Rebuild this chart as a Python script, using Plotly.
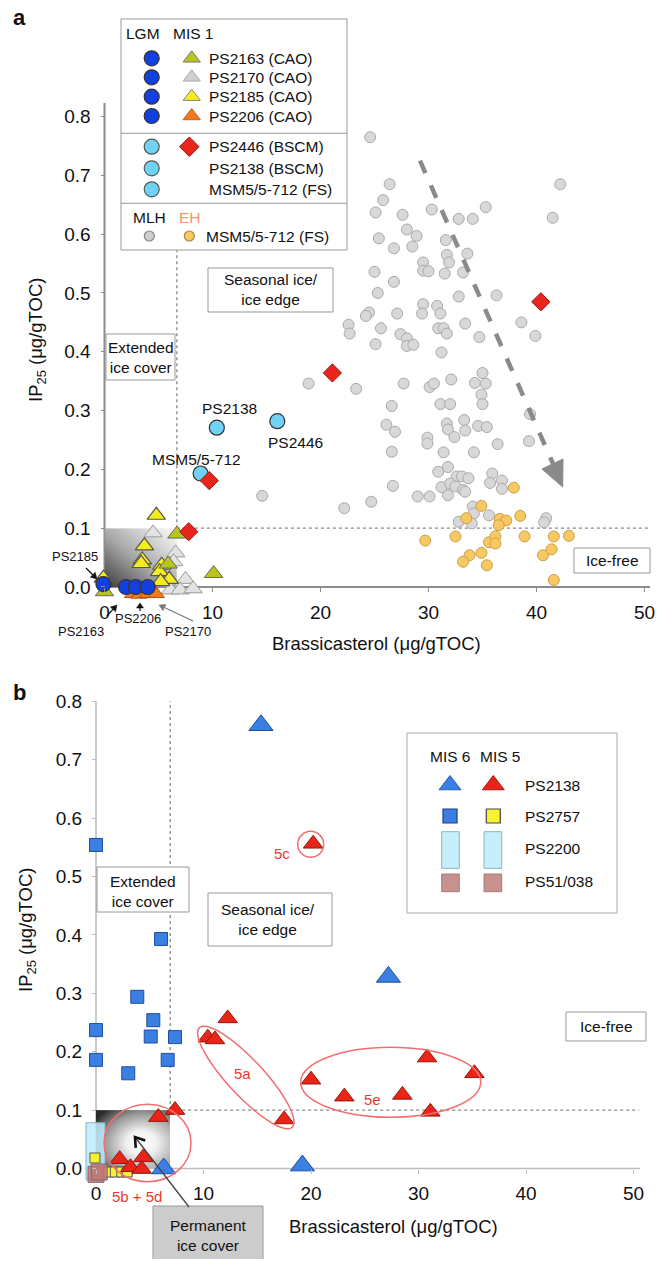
import base64
import math
import plotly.graph_objects as go

W, H = 659, 1261
FONT = "Liberation Sans, Arial, Helvetica, sans-serif"

# ---------------- DATA : panel a ----------------
mlh_x = [24.6, 26.4, 25.8, 25.1, 27.6, 30.3, 32.8, 34.1, 35.3, 42.2, 41.5, 28.0, 28.9, 25.4, 26.8, 28.5,
         31.6, 33.6, 31.7, 31.9, 29.5, 29.5, 30.0, 25.0, 31.5, 33.2, 26.8, 25.3, 32.8, 36.3, 24.5, 24.2,
         27.1, 29.5, 29.4, 30.8, 31.1,
         33.4, 38.6, 39.9, 22.6, 22.7, 25.6, 27.4, 28.0, 28.0, 28.6, 25.1, 30.9, 31.4, 31.7, 34.7, 31.2,
         18.9, 23.3, 27.7, 30.1, 30.5, 32.1, 34.3, 35.3, 35.0, 34.9, 35.0, 26.6, 31.1, 32.0, 26.1, 26.9,
         31.7, 31.8, 32.4, 33.3, 33.4, 34.6, 35.4, 39.4, 39.3, 36.4, 29.9, 29.9, 26.6, 31.4, 34.2, 30.9,
         31.8, 32.6, 33.1, 33.7, 35.9, 35.7, 36.8, 36.8, 31.2, 32.0, 32.5, 33.2, 31.8, 33.4, 26.7, 29.0,
         30.1, 24.7, 22.2, 34.1, 34.2, 32.8, 34.0, 35.6, 40.9, 40.7, 14.6]
mlh_y = [0.765, 0.685, 0.658, 0.637, 0.633, 0.642, 0.626, 0.626, 0.646, 0.685, 0.628, 0.608, 0.597, 0.593,
         0.576, 0.579, 0.590, 0.567, 0.565, 0.552, 0.552, 0.538, 0.537, 0.536, 0.533, 0.535, 0.519, 0.500,
         0.494, 0.496, 0.467, 0.461, 0.465, 0.481, 0.465, 0.478, 0.465,
         0.448, 0.450, 0.427, 0.446, 0.431, 0.440, 0.430, 0.423, 0.410, 0.412, 0.413, 0.440, 0.440, 0.431,
         0.425, 0.399, 0.346, 0.337, 0.346, 0.340, 0.346, 0.353, 0.347, 0.346, 0.364, 0.327, 0.311, 0.308,
         0.311, 0.311, 0.276, 0.264, 0.278, 0.268, 0.255, 0.284, 0.266, 0.274, 0.272, 0.294, 0.248, 0.243,
         0.254, 0.244, 0.230, 0.229, 0.229, 0.196, 0.204, 0.188, 0.188, 0.185, 0.193, 0.177, 0.181, 0.167,
         0.170, 0.176, 0.171, 0.165, 0.156, 0.162, 0.172, 0.154, 0.154, 0.145, 0.134, 0.137, 0.125, 0.111,
         0.108, 0.122, 0.117, 0.110, 0.155]

eh_x = [37.9, 34.9, 33.5, 36.6, 37.2, 36.5, 38.5, 29.7, 32.5, 35.6, 36.2, 36.2, 38.9, 41.6, 43.0, 34.9,
        33.8, 33.2, 35.4, 40.6, 41.4, 41.6]
eh_y = [0.169, 0.138, 0.117, 0.116, 0.113, 0.105, 0.121, 0.079, 0.086, 0.076, 0.086, 0.074, 0.086, 0.086,
        0.087, 0.058, 0.054, 0.043, 0.037, 0.054, 0.064, 0.012]

ps2163_x = [6.7, 10.1, 0.0, 5.9]
ps2163_y = [0.090, 0.023, -0.008, 0.039]
ps2170_x = [4.5, 6.6, 6.4, 7.5, 6.1, 7.0, 8.2]
ps2170_y = [0.092, 0.058, 0.043, 0.013, -0.005, -0.005, -0.003]
ps2185_x = [4.8, 3.7, 3.5, 3.4, 5.3, 5.1, 6.0, 5.2, -0.1, 3.6]
ps2185_y = [0.122, 0.070, 0.046, 0.040, 0.037, 0.026, 0.013, 0.009, 0.015, -0.011]
ps2206_x = [2.6, 3.2, 4.0, 4.8]
ps2206_y = [-0.012, -0.013, -0.012, -0.012]

lgm_x = [-0.1, 2.0, 2.9, 4.0]
lgm_y = [0.005, 0.0, 0.0, 0.0]

cyan_names = ["MSM5/5-712", "PS2138", "PS2446"]
cyan_x = [8.9, 10.4, 16.0]
cyan_y = [0.193, 0.271, 0.282]

ps2446_x = [7.8, 9.7, 21.1, 40.4]
ps2446_y = [0.094, 0.181, 0.364, 0.485]

legend_a_rows = ["PS2163 (CAO)", "PS2170 (CAO)", "PS2185 (CAO)", "PS2206 (CAO)"]
legend_a_rows2 = ["PS2446 (BSCM)", "PS2138 (BSCM)", "MSM5/5-712 (FS)"]

# ---------------- DATA : panel b ----------------
mis6_tri_x = [15.35, 27.2, 19.2, 6.3]
mis6_tri_y = [0.759, 0.328, 0.005, 0.0]
mis5_tri_x = [20.2, 12.25, 10.4, 11.06, 17.5, 20.0, 23.1, 28.5, 30.8, 35.2, 31.1, 7.35, 5.8, 2.2, 4.4, 3.2, 4.25]
mis5_tri_y = [0.556, 0.257, 0.224, 0.221, 0.084, 0.152, 0.123, 0.126, 0.190, 0.163, 0.097, 0.100, 0.088,
              0.016, 0.019, 0.002, -0.001]
mis6_sq_x = [0.0, 6.05, 3.84, 5.33, 5.09, 7.35, 0.0, 0.0, 3.0, 6.67]
mis6_sq_y = [0.554, 0.393, 0.294, 0.254, 0.226, 0.225, 0.237, 0.186, 0.163, 0.186]
mis5_sq_x = [-0.1, 0.5, 1.2, 1.8, 2.4, 2.9]
mis5_sq_y = [0.018, -0.006, -0.006, -0.006, -0.006, -0.006]
ps2200_x = [0.0]
ps2200_lo = [-0.02]
ps2200_hi = [0.078]
ps51_x = [0.0, 0.3]
ps51_y = [-0.010, -0.006]

x_ticks = [0, 10, 20, 30, 40, 50]
y_ticks = [0.0, 0.1, 0.2, 0.3, 0.4, 0.5, 0.6, 0.7, 0.8]
y_ticktext = ["0.0", "0.1", "0.2", "0.3", "0.4", "0.5", "0.6", "0.7", "0.8"]

# ---------------- geometry ----------------
AX0, AXS, AY0, AYS = 104.5, 10.8, 587.0, 588.0
BX0, BXS, BY0, BYS = 96.0, 10.75, 1168.5, 584.0
XA_RANGE, YA_RANGE = [-2, 51], [-0.04, 0.998]
XB_RANGE, YB_RANGE = [-2, 51.5], [-0.155, 0.86]


def ax_(p): return (p - AX0) / AXS
def ay_(p): return (AY0 - p) / AYS
def bx_(p): return (p - BX0) / BXS
def by_(p): return (BY0 - p) / BYS


xa_dom = [(AX0 + XA_RANGE[0] * AXS) / W, (AX0 + XA_RANGE[1] * AXS) / W]
ya_dom = [1 - (AY0 - YA_RANGE[0] * AYS) / H, 1 - (AY0 - YA_RANGE[1] * AYS) / H]
xb_dom = [(BX0 + XB_RANGE[0] * BXS) / W, (BX0 + XB_RANGE[1] * BXS) / W]
yb_dom = [1 - (BY0 - YB_RANGE[0] * BYS) / H, 1 - (BY0 - YB_RANGE[1] * BYS) / H]

fig = go.Figure()
shapes, anns, images = [], [], []


def sc(x, y, sym, size, color, lc, lw=1.0, axis="a", opacity=1.0):
    fig.add_trace(go.Scatter(x=x, y=y, mode="markers", hoverinfo="skip", showlegend=False,
                             xaxis="x" if axis == "a" else "x2", yaxis="y" if axis == "a" else "y2",
                             marker=dict(symbol=sym, size=size, color=color, opacity=opacity,
                                         line=dict(color=lc, width=lw))))


def txt(px, py, text, size=15.5, color="#111", xanchor="center", angle=0, bold=False):
    if bold:
        text = "<b>" + text + "</b>"
    anns.append(dict(x=px / W, y=1 - py / H, xref="paper", yref="paper", text=text, showarrow=False,
                     xanchor=xanchor, yanchor="middle", textangle=angle,
                     font=dict(family=FONT, size=size, color=color)))


def P(px, py):
    return f"{px / W:.5f},{1 - py / H:.5f}"


def arrow(hx, hy, tx, ty, color="#111", width=1.2, hl=6.0, hw=3.5, open_head=False):
    d = math.hypot(hx - tx, hy - ty)
    ux, uy = (hx - tx) / d, (hy - ty) / d
    nx, ny = -uy, ux
    bxp, byp = hx - hl * ux, hy - hl * uy
    shaft_end = (bxp, byp) if not open_head else (hx, hy)
    shapes.append(dict(type="line", xref="paper", yref="paper", x0=tx / W, y0=1 - ty / H,
                       x1=shaft_end[0] / W, y1=1 - shaft_end[1] / H,
                       line=dict(color=color, width=width), layer="above"))
    c1 = (bxp + hw * nx, byp + hw * ny)
    c2 = (bxp - hw * nx, byp - hw * ny)
    if open_head:
        path = f"M {P(*c1)} L {P(hx, hy)} L {P(*c2)}"
        shapes.append(dict(type="path", xref="paper", yref="paper", path=path,
                           line=dict(color="#111", width=2.6), layer="above"))
    else:
        path = f"M {P(hx, hy)} L {P(*c1)} L {P(*c2)} Z"
        shapes.append(dict(type="path", xref="paper", yref="paper", path=path, fillcolor=color,
                           line=dict(color=color, width=0.5), layer="above"))


def box(panel, x0, y0, x1, y1, fill="white", line="#999", lw=1.0, layer="below"):
    if panel == "a":
        shapes.append(dict(type="rect", xref="x", yref="y", x0=ax_(x0), x1=ax_(x1), y0=ay_(y0), y1=ay_(y1),
                           fillcolor=fill, line=dict(color=line, width=lw), layer=layer))
    else:
        shapes.append(dict(type="rect", xref="x2", yref="y2", x0=bx_(x0), x1=bx_(x1), y0=by_(y0), y1=by_(y1),
                           fillcolor=fill, line=dict(color=line, width=lw), layer=layer))


def line(panel, x0, y0, x1, y1, color, width, dash="solid", layer="below"):
    r = ("x", "y") if panel == "a" else ("x2", "y2")
    shapes.append(dict(type="line", xref=r[0], yref=r[1], x0=x0, y0=y0, x1=x1, y1=y1,
                       line=dict(color=color, width=width, dash=dash), layer=layer))


def svg_uri(svg):
    return "data:image/svg+xml;base64," + base64.b64encode(svg.encode()).decode()


# ---------------- panel a decorations ----------------
svg_a = ('<svg xmlns="http://www.w3.org/2000/svg" width="100" height="100" viewBox="0 0 100 100" '
         'preserveAspectRatio="none"><defs><linearGradient id="g" x1="0" y1="1" x2="1" y2="0">'
         '<stop offset="0" stop-color="#3a3a3a"/><stop offset="0.45" stop-color="#a6a6a6"/>'
         '<stop offset="1" stop-color="#ffffff"/></linearGradient></defs>'
         '<rect width="100" height="100" fill="url(#g)"/></svg>')
images.append(dict(source=svg_uri(svg_a), xref="x", yref="y", x=0, y=0.1, sizex=6.7, sizey=0.1,
                   sizing="stretch", xanchor="left", yanchor="top", layer="below"))

line("a", 6.7, 0.1, 6.7, ay_(250), "#888", 1.3, "dot")
line("a", 6.7, 0.1, 50.5, 0.1, "#888", 1.3, "dot")
line("a", 0, 0, 0, ay_(103), "#8c8c8c", 2)
line("a", ax_(102), 0, ax_(650), 0, "#8c8c8c", 2)

box("a", 121, 19, 347, 250)
line("a", ax_(121), ay_(133.3), ax_(347), ay_(133.3), "#999", 1)
line("a", ax_(121), ay_(203.3), ax_(347), ay_(203.3), "#999", 1)
box("a", 208, 268, 333, 312)
box("a", 106, 334, 175, 380)
box("a", 574, 548, 650, 573)

# big dashed trend arrow
arr_px = [(420, 160.7), (553.1, 464.0)]
line("a", ax_(arr_px[0][0]), ay_(arr_px[0][1]), ax_(arr_px[1][0]), ay_(arr_px[1][1]), "#8a8a8a", 4.5, "dash",
     layer="above")
head = [(562.7, 487.0), (563.0, 459.0), (542.0, 469.0)]
path = "M " + " L ".join(f"{ax_(p[0])},{ay_(p[1])}" for p in head) + " Z"
shapes.append(dict(type="path", xref="x", yref="y", path=path, fillcolor="#8a8a8a",
                   line=dict(color="#8a8a8a", width=1), layer="above"))

# ---------------- panel a data ----------------
sc(mlh_x, mlh_y, "circle", 11, "#d8d8d8", "#a9a9a9", 1)
sc(eh_x, eh_y, "circle", 11, "#f8c862", "#c7a04a", 1)
sc(ps2170_x, ps2170_y, "triangle-up", 16, "#e2e2e2", "#9a9a9a", 1)
sc(ps2185_x, ps2185_y, "triangle-up", 16, "#f4ec1e", "#555", 1.2)
sc(ps2163_x, ps2163_y, "triangle-up", 16, "#b9c51f", "#666", 1)
sc(ps2206_x, ps2206_y, "triangle-up", 14, "#f07a1e", "#b05010", 1)
sc(lgm_x, lgm_y, "circle", 15, "#1240e0", "#333", 1.2)
sc(cyan_x, cyan_y, "circle", 15, "#70d2f4", "#333", 1.2)
sc(ps2446_x, ps2446_y, "diamond", 14, "#e8261c", "#a01010", 1)

# legend a markers
leg_rows = [58.3, 77.3, 96.7, 116.0]
sc([ax_(151.7)] * 4, [ay_(v) for v in leg_rows], "circle", 15, "#1240e0", "#333", 1.2)
for yy, col, lc in zip(leg_rows, ["#b9c51f", "#d0d0d0", "#f4ec1e", "#f07a1e"], ["#777", "#aaa", "#888", "#c06018"]):
    sc([ax_(191.7)], [ay_(yy)], "triangle-up", 15, col, lc, 1)
leg_rows2 = [146.7, 168.3, 189.3]
sc([ax_(151.7)] * 3, [ay_(v) for v in leg_rows2], "circle", 15, "#70d2f4", "#555", 1.2)
sc([ax_(189.3)], [ay_(146.7)], "diamond", 15, "#e8261c", "#a01010", 1)
sc([ax_(149.3)], [ay_(236)], "circle", 10, "#cfcfcf", "#888", 1.2)
sc([ax_(189.3)], [ay_(236)], "circle", 10, "#f8c862", "#a88a40", 1.2)

txt(143, 33, "LGM")
txt(193, 33, "MIS 1")
for yy, t in zip(leg_rows, legend_a_rows):
    txt(206.7, yy, t, xanchor="left")
for yy, t in zip(leg_rows2, legend_a_rows2):
    txt(206.7, yy, t, xanchor="left")
txt(149, 217, "MLH")
txt(190, 217, "EH", color="#f4946c")
txt(204.3, 236, "MSM5/5-712 (FS)", xanchor="left")

txt(19, 18, "a", size=22, bold=True)
txt(270.5, 290, "Seasonal ice/<br>ice edge")
txt(140.5, 357, "Extended<br>ice cover")
txt(612, 560.5, "Ice-free")
txt(229.5, 409, cyan_names[1])
txt(295.5, 443, cyan_names[2])
txt(196.7, 459, cyan_names[0])
txt(74.7, 556.7, "PS2185", size=13)
txt(81, 631, "PS2163", size=13)
txt(138, 618, "PS2206", size=13)
txt(188, 631, "PS2170", size=13)
arrow(97, 579, 86, 568)
arrow(117, 605, 107, 616)
arrow(140, 603, 140, 611, hl=5)
arrow(159, 605, 193, 621, color="#777")
txt(376, 643, "Brassicasterol (μg/gTOC)", size=18.5)
txt(37, 340, "IP<sub>25</sub> (μg/gTOC)", size=18.5, angle=-90)

# ---------------- panel b decorations ----------------
svg_b = ('<svg xmlns="http://www.w3.org/2000/svg" width="100" height="100" viewBox="0 0 100 100" '
         'preserveAspectRatio="none"><defs><radialGradient id="g" cx="0.66" cy="0.6" r="0.8" fx="0.6" fy="0.55">'
         '<stop offset="0" stop-color="#ffffff"/><stop offset="0.25" stop-color="#f2f2f2"/>'
         '<stop offset="0.65" stop-color="#9a9a9a"/><stop offset="1" stop-color="#2a2a2a"/></radialGradient></defs>'
         '<rect width="100" height="100" fill="url(#g)"/></svg>')
images.append(dict(source=svg_uri(svg_b), xref="x2", yref="y2", x=0, y=0.1, sizex=6.9, sizey=0.1,
                   sizing="stretch", xanchor="left", yanchor="top", layer="below"))

line("b", 6.9, 0.1, 6.9, 0.8, "#888", 1.3, "dot")
line("b", 6.9, 0.1, 50.5, 0.1, "#888", 1.3, "dot")
line("b", 0, 0, 0, 0.8, "#bdbdbd", 1.6)
line("b", bx_(95), 0, bx_(640), 0, "#bdbdbd", 1.6)

box("b", 97, 867, 189, 912)
box("b", 208, 893, 332, 946)
box("b", 566, 1012, 646, 1041)
box("b", 407, 733, 617, 913, line="#aaa")
box("b", 153, 1206, 263, 1262, fill="#cccccc", line="#999")

# legend b swatches
box("b", 441.7, 831.7, 459.3, 868.3, fill="#c8eefa", line="#86b5c5")
box("b", 484.0, 831.7, 501.7, 868.3, fill="#c8eefa", line="#86b5c5")
box("b", 441.7, 874.0, 459.3, 891.7, fill="#c99090", line="#a87a7a")
box("b", 484.0, 874.0, 501.7, 891.7, fill="#c99090", line="#a87a7a")

# ellipses
ell = "#f26e6e"


def ell_rect(cx, cy, rx, ry):
    shapes.append(dict(type="circle", xref="x2", yref="y2", x0=bx_(cx - rx), x1=bx_(cx + rx),
                       y0=by_(cy + ry), y1=by_(cy - ry), line=dict(color=ell, width=1.5), layer="above"))


ell_rect(310.7, 844.3, 13, 13)
ell_rect(390.7, 1082.3, 90, 35)
ell_rect(147.5, 1143, 43.5, 38.7)
cx, cy, a, b = 245.8, 1077.5, 68, 18
ux, uy = 0.682, 0.732
pts = []
for i in range(0, 73):
    t = 2 * math.pi * i / 72
    px = cx + a * math.cos(t) * ux - b * math.sin(t) * uy
    py = cy + a * math.cos(t) * uy + b * math.sin(t) * ux
    pts.append(f"{bx_(px):.4f},{by_(py):.5f}")
shapes.append(dict(type="path", xref="x2", yref="y2", path="M " + " L ".join(pts) + " Z",
                   line=dict(color=ell, width=1.5), layer="above"))

# ---------------- panel b data ----------------
fig.add_trace(go.Bar(x=ps2200_x, y=[h - l for h, l in zip(ps2200_hi, ps2200_lo)], base=ps2200_lo, width=[1.8],
                     xaxis="x2", yaxis="y2", showlegend=False, hoverinfo="skip",
                     marker=dict(color="rgba(190,235,250,0.85)", line=dict(color="#7fb3c6", width=1))))
sc(mis5_sq_x, mis5_sq_y, "square", 10, "#f6f232", "#555", 1, axis="b")
sc(ps51_x, ps51_y, "square", 16, "rgba(190,120,120,0.85)", "#8a6060", 1, axis="b")
sc(mis6_sq_x, mis6_sq_y, "square", 13, "#3b7fe2", "#1d4fa0", 1, axis="b")
sc(mis5_tri_x, mis5_tri_y, "triangle-up", 17, "#ec2418", "#8a1a10", 1, axis="b")
sc(mis6_tri_x, mis6_tri_y, "triangle-up", 21, "#3b7fe2", "#1d4fa0", 1, axis="b")

# legend b markers
sc([bx_(450)], [by_(785)], "triangle-up", 19, "#3b7fe2", "#2a5fb0", 1, axis="b")
sc([bx_(493.3)], [by_(785)], "triangle-up", 19, "#ec2418", "#a01a10", 1, axis="b")
sc([bx_(450)], [by_(816)], "square", 14, "#3b7fe2", "#1d3f80", 1.2, axis="b")
sc([bx_(493.3)], [by_(816)], "square", 14, "#f6f232", "#444", 1.2, axis="b")
txt(450, 756, "MIS 6")
txt(500, 756, "MIS 5")
for yy, t in zip([785, 816, 848.3, 881.7], ["PS2138", "PS2757", "PS2200", "PS51/038"]):
    txt(523.3, yy, t, xanchor="left")

txt(19, 692, "b", size=22, bold=True)
txt(143, 891, "Extended<br>ice cover")
txt(268, 919, "Seasonal ice/<br>ice edge")
txt(606, 1026.5, "Ice-free")
txt(208, 1235, "Permanent<br>ice cover")
arrow(135, 1137, 189, 1207, color="#444", width=1.3, hl=9, hw=6, open_head=True)
red = "#ea3a2e"
txt(282, 853.3, "5c", size=15, color=red)
txt(242.3, 1073.3, "5a", size=15, color=red)
txt(372.3, 1099.3, "5e", size=15, color=red)
txt(137.3, 1196.7, "5b + 5d", size=15, color=red)
txt(393, 1226, "Brassicasterol (μg/gTOC)", size=18.5)
txt(27, 930, "IP<sub>25</sub> (μg/gTOC)", size=18.5, angle=-90)


def xaxis(dom, rng, pos, tc):
    return dict(domain=dom, range=rng, anchor="free", position=pos, tickvals=x_ticks,
                ticktext=[str(v) for v in x_ticks], ticks="outside", ticklen=4, tickcolor=tc, tickwidth=1,
                showline=False, showgrid=False, zeroline=False, ticklabelstandoff=4,
                tickfont=dict(family=FONT, size=19, color="#111"), fixedrange=True)


def yaxis(dom, rng, pos, tc):
    return dict(domain=dom, range=rng, anchor="free", position=pos, tickvals=y_ticks, ticktext=y_ticktext,
                ticks="outside", ticklen=4, tickcolor=tc, tickwidth=1, showline=False, showgrid=False,
                zeroline=False, ticklabelstandoff=6, tickfont=dict(family=FONT, size=19, color="#111"),
                fixedrange=True)


fig.update_layout(
    width=W, height=H, margin=dict(l=0, r=0, t=0, b=0), paper_bgcolor="white", plot_bgcolor="rgba(0,0,0,0)",
    showlegend=False, font=dict(family=FONT),
    xaxis=xaxis(xa_dom, XA_RANGE, 1 - AY0 / H, "#8c8c8c"),
    yaxis=yaxis(ya_dom, YA_RANGE, AX0 / W, "#8c8c8c"),
    xaxis2=xaxis(xb_dom, XB_RANGE, 1 - BY0 / H, "#bdbdbd"),
    yaxis2=yaxis(yb_dom, YB_RANGE, BX0 / W, "#bdbdbd"),
    shapes=shapes, annotations=anns, images=images, bargap=0,
)
fig.write_html("out.html", config={"displayModeBar": False},
               post_script="document.body.style.margin='0px';document.body.style.padding='0px';")
